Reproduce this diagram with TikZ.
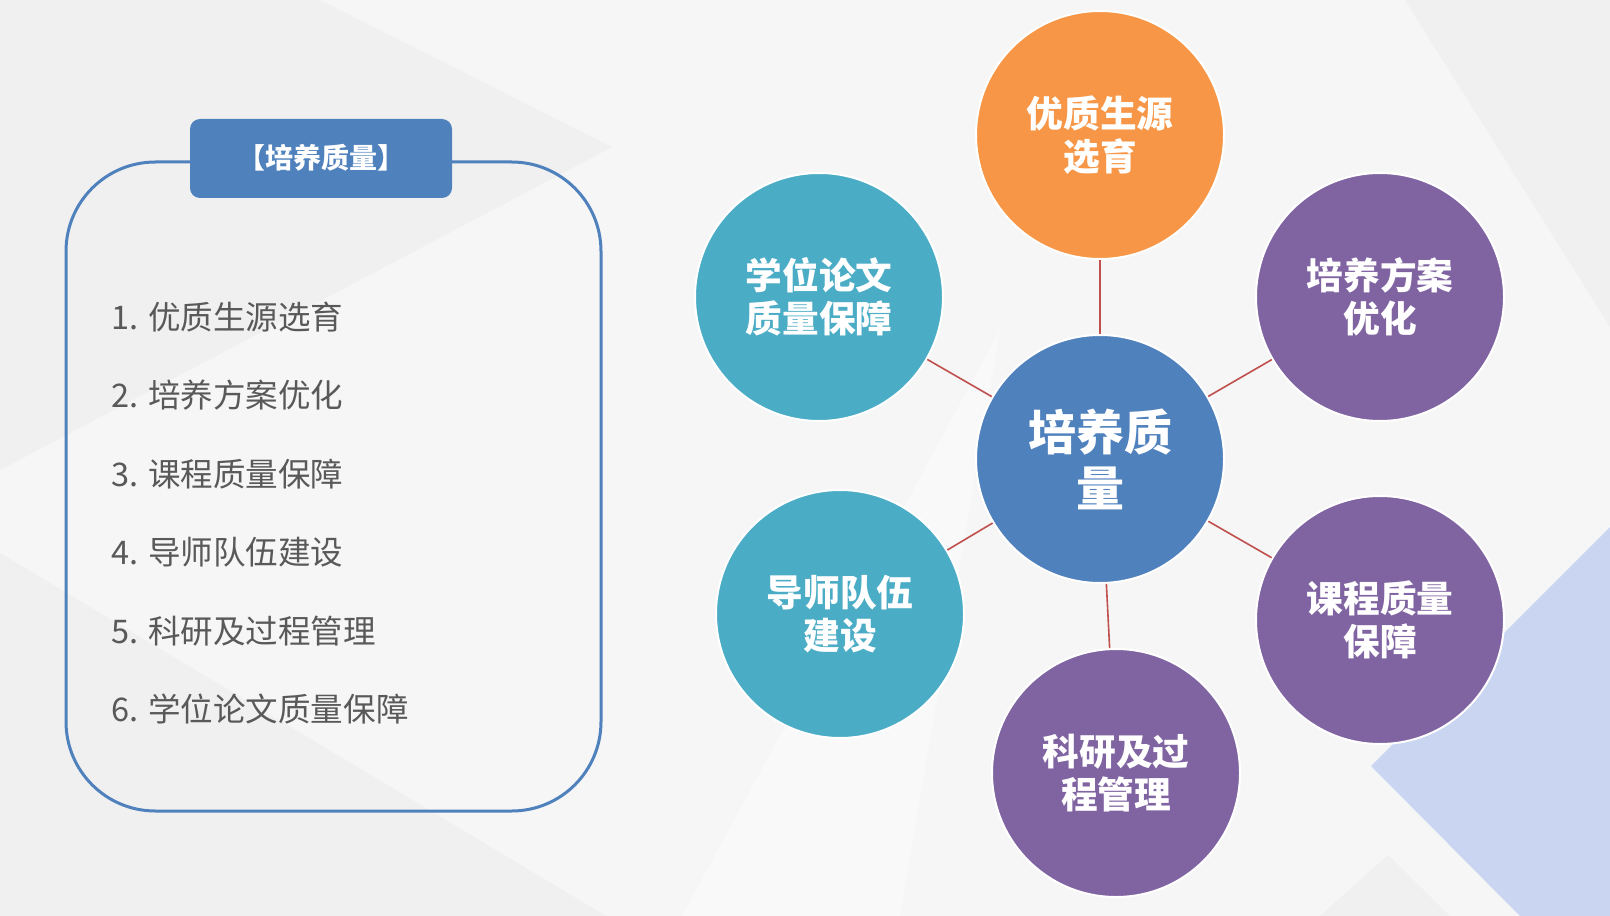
\documentclass[tikz,border=0pt]{standalone}
\usepackage{fontspec}
\setmainfont{Noto Sans CJK SC}
\usetikzlibrary{positioning}

\definecolor{bgbase}{HTML}{F6F6F6}
\definecolor{bgdark}{HTML}{F0F0F0}
\definecolor{bglight}{HTML}{F9F9F9}
\definecolor{lavender}{HTML}{CAD5F1}
\definecolor{qblue}{HTML}{4F81BD}
\definecolor{qorange}{HTML}{F79646}
\definecolor{qteal}{HTML}{4BACC6}
\definecolor{qpurple}{HTML}{8064A2}
\definecolor{qred}{HTML}{C0504D}
\definecolor{qgray}{HTML}{595959}

\begin{document}
\begin{tikzpicture}[
    x=0.75pt, y=-0.75pt,
    topic/.style={circle, draw=white, line width=1.5pt, minimum size=186pt, inner sep=0pt, align=center, text=white, font=\fontsize{27.5}{32}\selectfont\bfseries},
    core/.style={topic, fill=qblue, font=\fontsize{36}{42}\selectfont\bfseries},
    item/.style={anchor=west, inner sep=0pt, text=qgray, font=\fontsize{24.4}{28}\selectfont},
    tab/.style={draw=none, fill=qblue, rounded corners=7.5pt, text=white, font=\fontsize{21}{25}\selectfont\bfseries},
    link/.style={draw=qred, line width=1.2pt}
]

    % Fond clair avec triangles
    \fill[bgbase] (0,0) rectangle (1610,916);
    \useasboundingbox (0,0) rectangle (1610,916);
    \fill[bgdark] (0,0) -- (320,0) -- (612,147) -- (0,470) -- cycle;
    \fill[bgdark] (0,553) -- (606,916) -- (0,916) -- cycle;
    \fill[bglight] (682,916) -- (1000,330) -- (900,916) -- cycle;
    \fill[bgdark] (1405,0) -- (1610,0) -- (1610,327) -- cycle;
    \fill[bgdark] (1320,916) -- (1388,855) -- (1450,916) -- cycle;
    \fill[lavender] (1371,766) -- (1610,527) -- (1610,916) -- (1520,916) -- cycle;

    % Cadre de la liste et onglet du titre
    \draw[qblue, line width=2.25pt, rounded corners=67pt] (66,162) rectangle (601,811);
    \filldraw[tab] (190,119) rectangle (452,198);
    \node[tab, fill=none] (titre) at (321,158) {【培养质量】};

    % Liste des points
    \node[item] (item1) at (111,317) {1.\ \hspace{2pt}优质生源选育};
    \node[item] (item2) at (111,395) {2.\ \hspace{2pt}培养方案优化};
    \node[item] (item3) at (111,474) {3.\ \hspace{2pt}课程质量保障};
    \node[item] (item4) at (111,552) {4.\ \hspace{2pt}导师队伍建设};
    \node[item] (item5) at (111,631) {5.\ \hspace{2pt}科研及过程管理};
    \node[item] (item6) at (111,709) {6.\ \hspace{2pt}学位论文质量保障};

    % Cercle central et cercles satellites
    \node[core] (centre) at (1100,459) {培养质\\量};
    \node[topic, fill=qorange] (source) at (1100,135) {优质生源\\选育};
    \node[topic, fill=qpurple] (plan) at (1380,297) {培养方案\\优化};
    \node[topic, fill=qpurple] (cours) at (1380,620) {课程质量\\保障};
    \node[topic, fill=qpurple] (recherche) at (1116,773) {科研及过\\程管理};
    \node[topic, fill=qteal] (tuteurs) at (840,614) {导师队伍\\建设};
    \node[topic, fill=qteal] (these) at (819,297) {学位论文\\质量保障};

    % Liaisons
    \draw[link] (centre) -- (source);
    \draw[link] (centre) -- (plan);
    \draw[link] (centre) -- (cours);
    \draw[link] (centre) -- (recherche);
    \draw[link] (centre) -- (tuteurs);
    \draw[link] (centre) -- (these);

\end{tikzpicture}
\end{document}
